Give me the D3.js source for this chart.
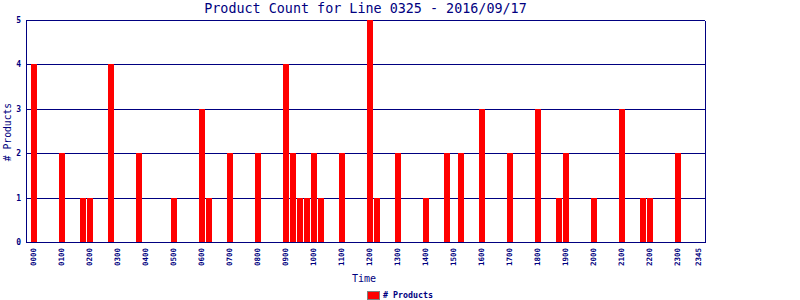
<!DOCTYPE html>
<html>
<head>
<meta charset="utf-8">
<script src="https://cdn.jsdelivr.net/npm/d3@7"></script>
<style>
  body { margin: 0; background: #fff; }
  svg { display: block; }
</style>
</head>
<body>
<div id="chart"></div>
<script>
// 15 minute slots, 0000 .. 2345
const hours = ["00","01","02","03","04","05","06","07","08","09","10","11",
               "12","13","14","15","16","17","18","19","20","21","22","23"];
const quarters = ["00","15","30","45"];
const slots = hours.flatMap(h => quarters.map(q => h + q));

// product count per slot, one row per hour
const productCounts = [
  4,0,0,0,  2,0,0,1,  1,0,0,4,  0,0,0,2,
  0,0,0,0,  1,0,0,0,  3,1,0,0,  2,0,0,0,
  2,0,0,0,  4,2,1,1,  2,1,0,0,  2,0,0,0,
  5,1,0,0,  2,0,0,0,  1,0,0,2,  0,2,0,0,
  3,0,0,0,  2,0,0,0,  3,0,0,1,  2,0,0,0,
  1,0,0,0,  3,0,0,1,  1,0,0,0,  2,0,0,0
];

const tickLabels = ["0000","0100","0200","0300","0400","0500","0600","0700",
                    "0800","0900","1000","1100","1200","1300","1400","1500",
                    "1600","1700","1800","1900","2000","2100","2200","2300","2345"];
const yTicks = [0, 1, 2, 3, 4, 5];

const navy = "#000080";
const mono = "'DejaVu Sans Mono', monospace";

const data = slots.map((s, i) => ({ slot: s, value: productCounts[i] }));

const svg = d3.select("#chart").append("svg")
  .attr("width", 800)
  .attr("height", 300)
  .attr("shape-rendering", "crispEdges");

const plot = { left: 26, right: 705, top: 20, bottom: 242 };

let x = d3.scaleBand().domain(slots).range([31, 703]);
let y = d3.scaleLinear().domain([0, 5]).range([plot.bottom, plot.top]);

// title
svg.append("text")
  .attr("x", (plot.left + plot.right) / 2)
  .attr("y", 13)
  .attr("text-anchor", "middle")
  .attr("fill", navy)
  .style("font-family", mono)
  .style("font-size", "13.4px")
  .text("Product Count for Line 0325 - 2016/09/17");

// grid lines
svg.append("g").selectAll("line")
  .data(yTicks.slice(1))
  .join("line")
  .attr("x1", plot.left)
  .attr("x2", plot.right)
  .attr("y1", d => Math.round(y(d)) + 0.5)
  .attr("y2", d => Math.round(y(d)) + 0.5)
  .attr("stroke", navy);

// bars
svg.append("g").selectAll("rect")
  .data(data.filter(d => d.value > 0))
  .join("rect")
  .attr("x", d => x(d.slot))
  .attr("width", x.bandwidth() - 1)
  .attr("y", d => Math.round(y(d.value)))
  .attr("height", d => Math.round(y(0)) - Math.round(y(d.value)))
  .attr("fill", "#ff0000");

// frame
svg.append("path")
  .attr("d", `M${plot.left + 0.5},${plot.top + 0.5}V${plot.bottom + 0.5}H${plot.right + 0.5}V${plot.top + 0.5}`)
  .attr("fill", "none")
  .attr("stroke", navy);

// y axis
let yAxis = d3.axisLeft(y).tickValues(yTicks).tickSize(0).tickPadding(5).tickFormat(d3.format("d"));
let gy = svg.append("g")
  .attr("transform", `translate(${plot.left},0)`)
  .call(yAxis);
gy.select(".domain").remove();
gy.selectAll("text")
  .attr("fill", navy)
  .style("font-family", mono)
  .style("font-size", "8px")
  .style("font-weight", "bold");

// x axis, vertical labels
let xAxis = d3.axisBottom(x)
  .tickValues(slots.filter(s => tickLabels.includes(s)))
  .tickSize(0);
let gx = svg.append("g")
  .attr("transform", `translate(0,${plot.bottom})`)
  .call(xAxis);
gx.select(".domain").remove();
gx.selectAll(".tick")
  .attr("transform", d => `translate(${x(d) + 2.5},0)`);
gx.selectAll("text")
  .attr("transform", "rotate(-90)")
  .attr("x", -6)
  .attr("y", 0)
  .attr("dy", "0.35em")
  .attr("text-anchor", "end")
  .attr("fill", navy)
  .style("font-family", mono)
  .style("font-size", "7.5px")
  .style("font-weight", "bold");

// axis titles
svg.append("text")
  .attr("x", 364)
  .attr("y", 282)
  .attr("text-anchor", "middle")
  .attr("fill", navy)
  .style("font-family", mono)
  .style("font-size", "10px")
  .text("Time");

svg.append("text")
  .attr("transform", "translate(11,132) rotate(-90)")
  .attr("text-anchor", "middle")
  .attr("fill", navy)
  .style("font-family", mono)
  .style("font-size", "9.7px")
  .text("# Products");

// legend
svg.append("rect")
  .attr("x", 367.5)
  .attr("y", 291.5)
  .attr("width", 12)
  .attr("height", 8)
  .attr("fill", "#ff0000")
  .attr("stroke", "#808080");

svg.append("text")
  .attr("x", 383)
  .attr("y", 298)
  .attr("fill", navy)
  .style("font-family", mono)
  .style("font-size", "8.3px")
  .style("font-weight", "bold")
  .text("# Products");
</script>
</body>
</html>
